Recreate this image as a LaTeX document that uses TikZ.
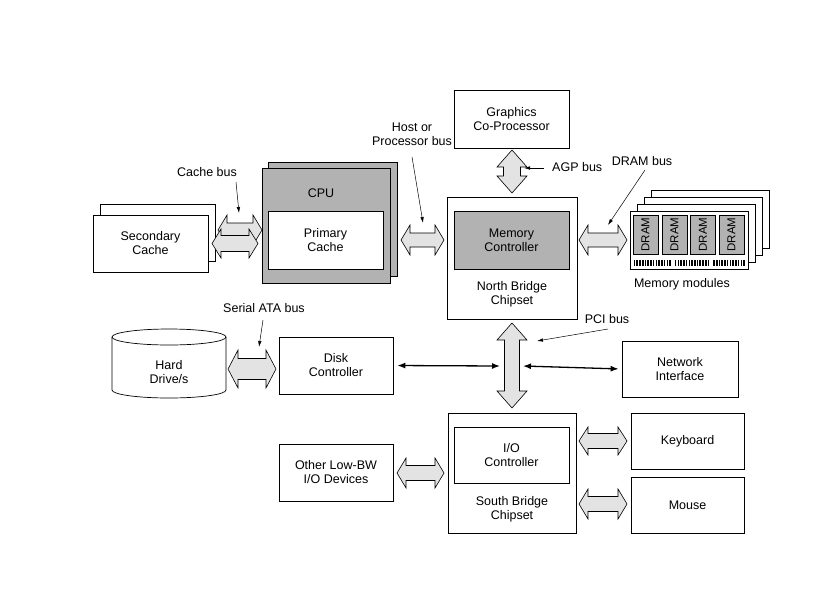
\documentclass[tikz,border=0pt]{standalone}
\usepackage{fontspec}
\setmainfont{Liberation Sans}
\usetikzlibrary{arrows.meta}
\definecolor{busfill}{gray}{0.89}
\definecolor{chipgray}{gray}{0.70}
% horizontal double bus arrow: x1, x2, y, head length, head half width, shaft half width
\newcommand{\busH}[6]{%
  \filldraw[bus] (#1,#3) -- (#1+#4,#3-#5) -- (#1+#4,#3-#6) -- (#2-#4,#3-#6) -- (#2-#4,#3-#5) -- (#2,#3)
    -- (#2-#4,#3+#5) -- (#2-#4,#3+#6) -- (#1+#4,#3+#6) -- (#1+#4,#3+#5) -- cycle;}
% vertical double bus arrow: x, y1, y2, head length, head half width, shaft half width
\newcommand{\busV}[6]{%
  \filldraw[bus] (#1,#2) -- (#1+#5,#2+#4) -- (#1+#6,#2+#4) -- (#1+#6,#3-#4) -- (#1+#5,#3-#4) -- (#1,#3)
    -- (#1-#5,#3-#4) -- (#1-#6,#3-#4) -- (#1-#6,#2+#4) -- (#1-#5,#2+#4) -- cycle;}
\begin{document}
\begin{tikzpicture}[x=1pt,y=-1pt,font=\fontsize{12.5}{14}\selectfont,
  box/.style={draw,line width=0.7pt,fill=white,align=center,inner sep=0pt},
  gbox/.style={box,fill=chipgray},
  backbox/.style={draw,line width=0.7pt,fill=white},
  lbl/.style={align=center,inner sep=1pt},
  bus/.style={draw,line width=0.6pt,fill=busfill,line join=miter},
  ptr/.style={-{Latex[length=6pt,width=3.5pt]},line width=0.5pt},
  conn/.style={{Latex[length=8pt,width=6pt]}-{Latex[length=8pt,width=6pt]},line width=1.3pt},
  chip/.style={draw,line width=0.6pt,fill=chipgray,rotate=90,inner sep=0pt,minimum width=39,minimum height=25,font=\fontsize{11.5}{12}\selectfont}]

\fill[white] (0,0) rectangle (840,600);
\useasboundingbox (0,0) rectangle (840,600);

% Secondary cache
\draw[backbox] (100,204) rectangle (215,261);
\node[box,minimum width=115,minimum height=57] (sec) at (150.5,243.5) {Secondary\\Cache};

% CPU
\draw[backbox,fill=chipgray] (268,162) rectangle (397,276);
\node[gbox,minimum width=128,minimum height=115] (cpu) at (326,225.5) {};
\node[lbl] (cpul) at (321,193) {CPU};
\node[box,minimum width=115,minimum height=58] (pc) at (325.5,240) {Primary\\Cache};

% cache bus
\busH{218}{262}{230}{9}{15}{7}
\busH{212}{258}{243.5}{9}{14.5}{8}
\node[lbl] (cbl) at (207,172) {Cache bus};
\coordinate (cbt) at (239,213);
\draw[ptr] (236,182) -- (cbt);

% North bridge
\node[box,minimum width=130,minimum height=122] (nb) at (512,258) {};
\node[gbox,minimum width=115,minimum height=58] (mc) at (511.5,240) {Memory\\Controller};
\node[lbl] (nbl) at (512,294) {North Bridge\\Chipset};

% host bus
\busH{401}{444}{240}{9}{15}{7}
\node[lbl] (hbl) at (412,134.5) {Host or\\Processor bus};
\coordinate (hbt) at (423,223);
\draw[ptr] (412,157) -- (hbt);

% Graphics
\node[box,minimum width=115,minimum height=58] (gfx) at (511.5,119) {Graphics\\Co-Processor};
\busV{512}{150}{193}{17}{15}{8.5}
\node[lbl,anchor=west] (agpl) at (551,167) {AGP bus};
\coordinate (agpt) at (524,168);
\draw[ptr] (544,168) -- (agpt);

% Memory modules
\draw[backbox] (651,190) rectangle (769,248);
\draw[backbox] (644,197) rectangle (762,255);
\draw[backbox] (637,204) rectangle (755,262);
\node[box,minimum width=118,minimum height=58] (mem) at (689,240) {};
\node[chip] (d1) at (645.5,234.5) {DRAM};
\node[chip] (d2) at (674.5,234.5) {DRAM};
\node[chip] (d3) at (703,234.5) {DRAM};
\node[chip] (d4) at (731.5,234.5) {DRAM};
\foreach \i in {0,...,40}{
  \ifnum\i=14\relax\else\ifnum\i=28\relax\else
  \draw[line width=1.6pt] (634.5+2.74*\i,260) -- (634.5+2.74*\i,266);
  \fi\fi}
\node[lbl] (meml) at (682,284) {Memory modules};

% DRAM bus
\busH{579}{627}{240}{9}{15}{7}
\node[lbl] (dbl) at (642,161) {DRAM bus};
\coordinate (dbt) at (608,225);
\draw[ptr] (645,170) -- (dbt);

% Hard drive
\draw[line width=0.7pt,fill=white] (112,337) -- (112,390)
  arc[start angle=180,end angle=360,x radius=57pt,y radius=8pt] -- (226,337);
\draw[line width=0.7pt,fill=white] (169,337) ellipse[x radius=57pt,y radius=8pt];
\node[lbl] (hd) at (169,372) {Hard\\Drive/s};

% SATA
\busH{228}{276}{369}{10}{19}{10.5}
\node[lbl] (sata) at (264,308) {Serial ATA bus};
\coordinate (satat) at (259,347);
\draw[ptr] (263,320) -- (satat);

% Disk controller
\node[box,minimum width=114,minimum height=57] (dc) at (336,365.5) {Disk\\Controller};

% PCI
\busV{512}{323}{408}{17}{15}{7.5}
\coordinate (pciL) at (500,366);
\coordinate (pciR) at (523,366);
\node[lbl] (pcil) at (607,319) {PCI bus};
\coordinate (pcit) at (537,341);
\draw[ptr] (608,329) -- (pcit);

% Network interface
\node[box,minimum width=116,minimum height=56] (ni) at (680,369) {Network\\Interface};
\draw[conn,shorten <=4pt] (dc.east) -- (pciL);
\draw[conn,shorten >=3pt] (pciR) -- (ni.west);

% South bridge
\node[box,minimum width=128,minimum height=120] (sb) at (512,473) {};
\node[box,minimum width=115,minimum height=56] (io) at (511.5,455) {I/O\\Controller};
\node[lbl] (sbl) at (512,509) {South Bridge\\Chipset};

% Other low-BW
\node[box,minimum width=114,minimum height=57] (ol) at (336,472.5) {Other Low-BW\\I/O Devices};
\busH{397}{444}{473}{9}{15}{7.5}

% Keyboard and mouse
\node[box,minimum width=113,minimum height=56] (kb) at (687.5,441) {Keyboard};
\node[box,minimum width=113,minimum height=56] (ms) at (687.5,505) {Mouse};
\busH{579}{627}{441}{9}{14}{7.5}
\busH{579}{627}{504}{9}{15}{7.5}
\end{tikzpicture}
\end{document}
